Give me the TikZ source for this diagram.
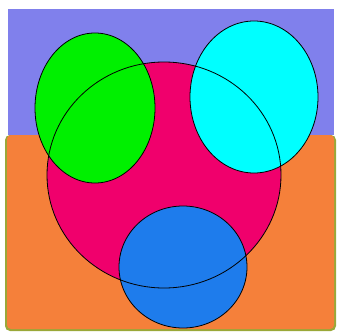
\documentclass[tikz,border=0pt]{standalone}
\usepackage{xcolor}
\usepackage{tikz}

\definecolor{sky}{HTML}{8080EC}
\definecolor{ground}{HTML}{F5803A}
\definecolor{groundedge}{HTML}{9AA838}
\definecolor{pinkball}{HTML}{F0006C}
\definecolor{greenball}{HTML}{00F000}
\definecolor{cyanball}{HTML}{00FFFF}
\definecolor{blueball}{HTML}{1E7CEC}

\begin{document}
\begin{tikzpicture}[x=1pt,y=-1pt]
    \useasboundingbox (0,0) rectangle (337,332);
    \fill[white] (0,0) rectangle (337,332);
    % 上面的紫色
    \fill[sky] (8,9) rectangle (334,135);
    % 下面的橙色
    \fill[groundedge,rounded corners=5pt] (5,135) rectangle (336,331);
    \fill[ground,rounded corners=4pt] (7,135) rectangle (334,329);
    \draw[yellow!30!white,line width=0.7pt] (48,135) -- (306,135);
    % 圆的颜色
    \fill[pinkball] (164,175) ellipse (117 and 113);
    \fill[greenball] (95,108) ellipse (60 and 75);
    \fill[cyanball] (254,97) ellipse (64 and 76);
    \fill[blueball] (183,267) ellipse (64 and 61);
    % 圆的边
    \draw[line width=0.8pt] (164,175) ellipse (117 and 113);
    \draw[line width=0.8pt] (95,108) ellipse (60 and 75);
    \draw[line width=0.8pt] (254,97) ellipse (64 and 76);
    \draw[line width=0.8pt] (183,267) ellipse (64 and 61);
\end{tikzpicture}
\end{document}
